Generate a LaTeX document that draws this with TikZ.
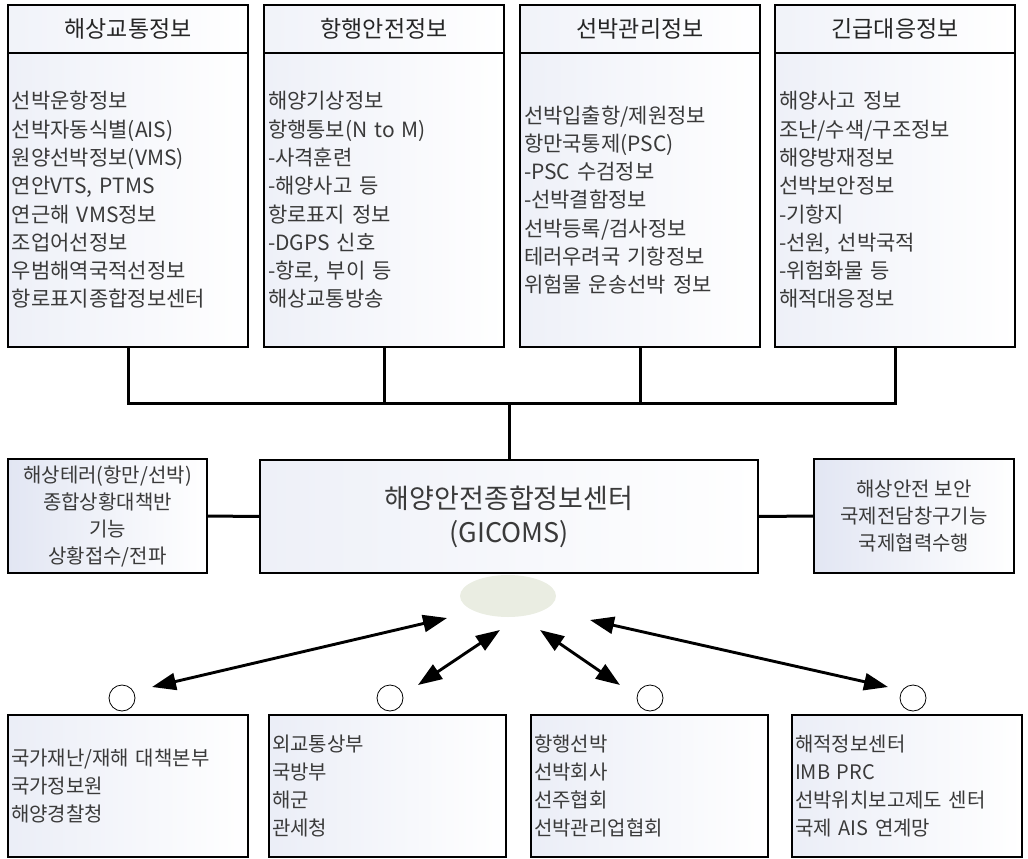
\documentclass[tikz,border=0pt]{standalone}
\usepackage{fontspec}
\setmainfont{Noto Sans CJK KR}
\usepackage{tikz}
\usetikzlibrary{positioning,calc,arrows.meta,shapes.geometric}
\definecolor{BoxTint}{RGB}{226,230,243}
\definecolor{InkGray}{RGB}{58,58,58}
\definecolor{HubGreen}{RGB}{234,237,226}

\begin{document}
\begin{tikzpicture}[x=1pt,y=-1pt,
                % 상단 박스 제목 칸
                headbox/.style={
                    draw, line width=2.9pt, left color=BoxTint!50, right color=white,
                    minimum width=240pt, minimum height=48pt,
                    inner sep=0pt, outer sep=0pt,
                    font=\fontsize{23}{28}\selectfont, text=black!85
                },
                % 상단 박스 본문 칸
                listbox/.style={
                    draw, line width=2.9pt, left color=BoxTint!60, right color=white,
                    minimum width=240pt, minimum height=294pt,
                    text width=232pt, inner xsep=4pt, outer sep=0pt, align=left,
                    font=\fontsize{21}{28.3}\selectfont, text=InkGray
                },
                % 센터 양옆 박스
                sidebox/.style={
                    draw, line width=2.9pt, left color=BoxTint, right color=white,
                    minimum width=200pt, minimum height=114pt,
                    inner sep=0pt, outer sep=0pt, align=center,
                    font=\fontsize{20}{27}\selectfont, text=InkGray
                },
                % 하단 기관 박스
                orgbox/.style={
                    draw, line width=2.9pt, left color=BoxTint!70, right color=white,
                    minimum height=142pt, inner xsep=3pt, outer sep=0pt, align=left,
                    font=\fontsize{20}{28.2}\selectfont, text=InkGray
                },
                % 연결선, 양방향 화살표
                link/.style={line width=3pt},
                dual/.style={line width=2.9pt,
                    {Triangle[length=24pt,width=17pt]}-{Triangle[length=24pt,width=17pt]}},
                % 하단 작은 원
                port/.style={circle, draw, line width=0.8pt, fill=white,
                    minimum size=26pt, inner sep=0pt}
            ]
                \useasboundingbox (0,0) rectangle (1028,859);

                % --- 1. 상단 정보 박스 (4개) ---
                \foreach \i/\cx/\title in {1/128/해상교통정보, 2/384/항행안전정보, 3/640/선박관리정보, 4/895/긴급대응정보} {
                    \node[headbox] (H\i) at (\cx, 29) {\title};
                }

                \node[listbox] (B1) at (128, 200) {선박운항정보\\선박자동식별(AIS)\\원양선박정보(VMS)\\연안VTS, PTMS\\연근해 VMS정보\\조업어선정보\\우범해역국적선정보\\항로표지종합정보센터};
                \node[listbox] (B2) at (384, 200) {해양기상정보\\항행통보(N to M)\\-사격훈련\\-해양사고 등\\항로표지 정보\\-DGPS 신호\\-항로, 부이 등\\해상교통방송};
                \node[listbox] (B3) at (640, 200) {선박입출항/제원정보\\항만국통제(PSC)\\-PSC 수검정보\\-선박결함정보\\선박등록/검사정보\\테러우려국 기항정보\\위험물 운송선박 정보};
                \node[listbox] (B4) at (895, 200) {해양사고 정보\\조난/수색/구조정보\\해양방재정보\\선박보안정보\\-기항지\\-선원, 선박국적\\-위험화물 등\\해적대응정보};

                % --- 2. 종합정보센터와 양옆 박스 ---
                \node[sidebox, left color=BoxTint!60, minimum width=498pt, minimum height=113pt,
                      font=\fontsize{27}{34}\selectfont] (center) at (509, 516.5) {해양안전종합정보센터\\(GICOMS)};
                \node[sidebox, minimum width=199pt] (S1) at (107.5, 516) {해상테러(항만/선박)\\종합상황대책반\\기능\\상황접수/전파};
                \node[sidebox] (S2) at (914, 516) {해상안전 보안\\국제전담창구기능\\국제협력수행};

                % --- 3. 연결선 ---
                \coordinate (bus) at (509, 403);
                \draw[link] (B1.south) -- (B1.south |- bus) -- (B4.south |- bus) -- (B4.south);
                \draw[link] (B2.south) -- (B2.south |- bus);
                \draw[link] (B3.south) -- (B3.south |- bus);
                \draw[link] (bus) -- (center.north);
                \draw[link] (S1.east) -- (center.west);
                \draw[link] (center.east) -- (S2.west);

                % --- 4. 하단 기관 박스와 원 ---
                \node[orgbox, minimum width=240pt, text width=234pt] (O1) at (128, 786) {국가재난/재해 대책본부\\국가정보원\\해양경찰청};
                \node[orgbox, minimum width=237pt, text width=231pt] (O2) at (387.5, 786) {외교통상부\\국방부\\해군\\관세청};
                \node[orgbox, minimum width=237pt, text width=231pt] (O3) at (649.5, 786) {항행선박\\선박회사\\선주협회\\선박관리업협회};
                \node[orgbox, minimum width=230pt, text width=224pt] (O4) at (907, 786) {해적정보센터\\IMB PRC\\선박위치보고제도 센터\\국제 AIS 연계망};

                \foreach \i/\cx in {1/122, 2/390, 3/650, 4/913} {
                    \node[port] (P\i) at (\cx, 698) {};
                }

                % --- 5. 허브 타원과 화살표 ---
                \node[ellipse, fill=HubGreen, minimum width=96pt, minimum height=42pt, inner sep=0pt] (hub) at (508, 596) {};

                \coordinate (A1) at ($(P1)+(30,-11)$);
                \coordinate (A2) at ($(P2)+(28,-13)$);
                \coordinate (A3) at ($(P3)+(-30,-13)$);
                \coordinate (A4) at ($(P4)+(-25,-11)$);
                \coordinate (T1) at ($(hub)+(-61,22)$);
                \coordinate (T2) at ($(hub)+(-8,34)$);
                \coordinate (T3) at ($(hub)+(32,34)$);
                \coordinate (T4) at ($(hub)+(82,24)$);
                \foreach \i in {1,...,4} {
                    \draw[dual] (A\i) -- (T\i);
                }

            \end{tikzpicture}
\end{document}
